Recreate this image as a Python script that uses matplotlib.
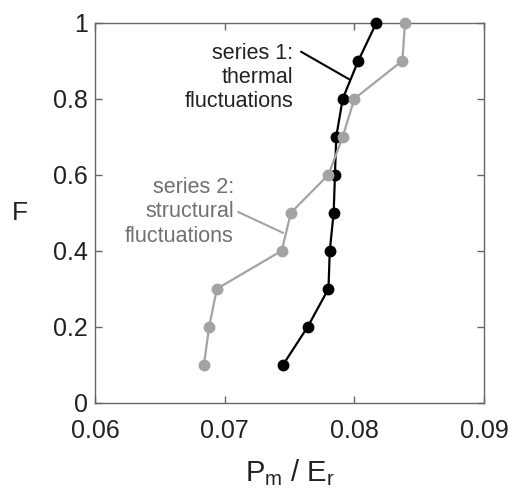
import matplotlib
matplotlib.use("Agg")
import matplotlib.pyplot as plt

plt.rcParams['font.family'] = ['Liberation Sans', 'DejaVu Sans']
plt.rcParams['mathtext.fontset'] = 'custom'
plt.rcParams['mathtext.rm'] = 'Liberation Sans'

# Data
F = [0.1, 0.2, 0.3, 0.4, 0.5, 0.6, 0.7, 0.8, 0.9, 1.0]
thermal = [0.0745, 0.0764, 0.0780, 0.0781, 0.0784, 0.0785, 0.0786, 0.0791, 0.0803, 0.0817]
structural = [0.0684, 0.0688, 0.0694, 0.0744, 0.0751, 0.0780, 0.0791, 0.0800, 0.0837, 0.0839]

gray = "#a3a3a3"

fig = plt.figure(figsize=(5.08, 4.93), dpi=100)
ax = fig.add_axes([0.187, 0.183, 0.766, 0.771])

ax.plot(thermal, F, color="black", lw=1.6, marker="o", ms=7.5, clip_on=False, zorder=3)
ax.plot(structural, F, color=gray, lw=1.6, marker="o", ms=7.5, clip_on=False, zorder=4)

ax.set_xlim(0.06, 0.09)
ax.set_ylim(0, 1)
ax.set_xticks([0.06, 0.07, 0.08, 0.09])
ax.set_xticklabels(["0.06", "0.07", "0.08", "0.09"])
ax.set_yticks([0, 0.2, 0.4, 0.6, 0.8, 1.0])
ax.set_yticklabels(["0", "0.2", "0.4", "0.6", "0.8", "1"])
ax.tick_params(direction="in", top=True, right=True, length=5, width=1,
               color="#666666", labelsize=18, labelcolor="#222222")
ax.tick_params(axis="x", pad=12)
ax.tick_params(axis="y", pad=5)
for s in ax.spines.values():
    s.set_color("#666666")
    s.set_linewidth(1)

ax.set_ylabel("F", fontsize=19, rotation=0, color="#222222", labelpad=24, va="center")
ax.set_xlabel(r"P$_\mathregular{m}$ / E$_\mathregular{r}$", fontsize=21, color="#222222", labelpad=10)

ax.annotate("series 1:\nthermal\nfluctuations", xy=(0.0796, 0.851), xytext=(0.0753, 0.856),
            ha="right", va="center", fontsize=15.5, color="#222222", linespacing=1.2,
            arrowprops=dict(arrowstyle="-", color="black", lw=1.5,
                            shrinkA=0, shrinkB=0, relpos=(1.07, 0.87)))
ax.annotate("series 2:\nstructural\nfluctuations", xy=(0.0745, 0.447), xytext=(0.0707, 0.502),
            ha="right", va="center", fontsize=15.5, color="#707070", linespacing=1.2,
            arrowprops=dict(arrowstyle="-", color=gray, lw=1.5,
                            shrinkA=0, shrinkB=0, relpos=(1.04, 0.5)))

fig.savefig("out.png", dpi=100)
